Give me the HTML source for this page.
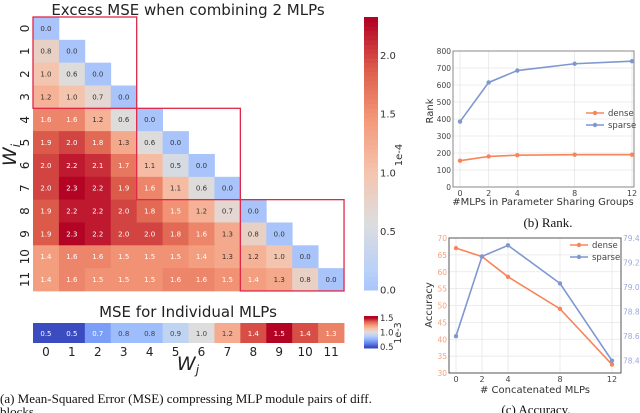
<!DOCTYPE html>
<html><head><meta charset="utf-8"><style>
body{margin:0;background:#fff;width:640px;height:413px;overflow:hidden}
svg{display:block}
text{font-family:"DejaVu Sans","Liberation Sans",sans-serif}
.cap{font-family:"Liberation Serif",serif;font-size:13px;fill:#111}
</style></head><body>
<svg id="s" width="640" height="413" xmlns="http://www.w3.org/2000/svg">
<text x="188" y="15" font-size="15" text-anchor="middle" fill="#222">Excess MSE when combining 2 MLPs</text>
<text x="188" y="317" font-size="15" text-anchor="middle" fill="#222">MSE for Individual MLPs</text>
<g id="hm"></g>
<g id="strip"></g>
<text x="16" y="155" font-size="19" font-style="italic" text-anchor="middle" transform="rotate(-90 16 155)" fill="#222">W<tspan font-size="12" dy="4">i</tspan></text>
<text x="188" y="370" font-size="19" font-style="italic" text-anchor="middle" fill="#222">W<tspan font-size="12" dy="4">j</tspan></text>
<g id="cb1"></g>
<g id="cb2"></g>
<text x="402" y="155" font-size="10" text-anchor="middle" transform="rotate(-90 402 155)" fill="#333">1e-4</text>
<text x="401" y="333" font-size="9.5" text-anchor="middle" transform="rotate(-90 401 333)" fill="#333">1e-3</text>
<text x="0" y="403" class="cap">(a) Mean-Squared Error (MSE) compressing MLP module pairs of diff.</text>
<text x="0" y="416" class="cap">blocks.</text>
<g id="rank"></g>
<g id="acc"></g>
<text x="548" y="227" class="cap" text-anchor="middle">(b) Rank.</text>
<text x="536" y="414" class="cap" text-anchor="middle">(c) Accuracy.</text>
</svg>
<script>
const excessRows=[[0.0],[0.8,0.0],[1.0,0.6,0.0],[1.2,1.0,0.7,0.0],[1.6,1.6,1.2,0.6,0.0],[1.9,2.0,1.8,1.3,0.6,0.0],[2.0,2.2,2.1,1.7,1.1,0.5,0.0],[2.0,2.3,2.2,1.9,1.6,1.1,0.6,0.0],[1.9,2.2,2.2,2.0,1.8,1.5,1.2,0.7,0.0],[1.9,2.3,2.2,2.0,2.0,1.8,1.6,1.3,0.8,0.0],[1.4,1.6,1.6,1.5,1.5,1.5,1.4,1.3,1.2,1.0,0.0],[1.4,1.6,1.5,1.5,1.5,1.6,1.6,1.5,1.4,1.3,0.8,0.0]];
const individualMse=[0.5,0.5,0.7,0.8,0.8,0.9,1.0,1.2,1.4,1.5,1.4,1.3];
const cb1Ticks=[0.0,0.5,1.0,1.5,2.0];
const cb2Ticks=[0.5,1.0,1.5];
const rankX=[0,2,4,8,12];
const rankDense=[155,180,187,190,190];
const rankSparse=[385,615,685,725,740];
const rankYTicks=[0,100,200,300,400,500,600,700,800];
const accX=[0,2,4,8,12];
const accDense=[67,64.5,58.5,49,32.5];
const accSparse=[78.6,79.25,79.34,79.03,78.4];
const accLTicks=[30,35,40,45,50,55,60,65,70];
const accRTicks=[78.4,78.6,78.8,79.0,79.2,79.4];

const NS="http://www.w3.org/2000/svg";
function mk(p,tag,a,txt){const e=document.createElementNS(NS,tag);for(const k in a)e.setAttribute(k,a[k]);if(txt!==undefined)e.textContent=txt;p.appendChild(e);return e;}
const CW=[[59,76,192],[98,130,234],[141,176,254],[184,208,249],[221,221,221],[245,196,173],[244,154,123],[222,96,77],[180,4,38]];
function cw(t){t=Math.max(0,Math.min(1,t));const f=t*8,i=Math.min(7,Math.floor(f)),r=f-i;const a=CW[i],b=CW[i+1];return`rgb(${a.map((v,k)=>Math.round(v+(b[k]-v)*r)).join(',')})`;}
const c1=v=>cw(0.33+0.67*v/2.3);
const c2=v=>cw((v-0.5)/1.0);
const X0=33,CWD=25.92,Y0=17,RH=22.83;
const hm=document.getElementById('hm');
excessRows.forEach((row,i)=>row.forEach((v,j)=>{
 const r=mk(hm,'rect',{x:X0+j*CWD,y:Y0+i*RH,width:CWD+0.4,height:RH+0.4,fill:c1(v)});
 
 const t=mk(hm,'text',{x:X0+(j+.5)*CWD,y:Y0+(i+.5)*RH+2.5,'font-size':7,'text-anchor':'middle',fill:v>=1.4?'#fff':'#333'},v.toFixed(1));
 
}));
for(let i=0;i<12;i++){const cx=25,cy=Y0+(i+.5)*RH;
 const t=mk(hm,'text',{x:cx,y:cy+4,'font-size':12,'text-anchor':'middle',fill:'#222',transform:`rotate(-90 ${cx} ${cy})`},String(i));
 }
[0,4,8].forEach(k=>{const b=mk(hm,'rect',{x:X0+k*CWD,y:Y0+k*RH,width:4*CWD,height:4*RH,fill:'none',stroke:'#e0284a','stroke-width':1.3});
 });
const st=document.getElementById('strip');
individualMse.forEach((v,j)=>{
 const r=mk(st,'rect',{x:X0+j*CWD,y:323,width:CWD+0.4,height:20,fill:c2(v)});
 
 const t=mk(st,'text',{x:X0+(j+.5)*CWD,y:336,'font-size':7,'text-anchor':'middle',fill:(v>=0.8&&v<=1.2)?'#444':'#fff'},v.toFixed(1));
 
 const l=mk(st,'text',{x:X0+(j+.5)*CWD,y:356,'font-size':12,'text-anchor':'middle',fill:'#222'},String(j));
 
});
function colorbar(g,x,top,bot,vmin,vmax,fn,ticks,fs){
 const n=60;for(let k=0;k<n;k++){const v=vmin+(vmax-vmin)*(k+.5)/n;const y=bot-(k+1)*(bot-top)/n;
  const r=mk(g,'rect',{x:x,y:y,width:14,height:(bot-top)/n+0.5,fill:fn(v)});
  }
 ticks.forEach(v=>{const y=bot-(v-vmin)/(vmax-vmin)*(bot-top);
  const t=mk(g,'text',{x:x+16,y:y+3.5,'font-size':fs,fill:'#333'},v.toFixed(1));
  });
}
colorbar(document.getElementById('cb1'),364,17,290,0,2.33,c1,cb1Ticks,10);
colorbar(document.getElementById('cb2'),364,316,348,0.45,1.55,c2,cb2Ticks,8.5);

const OR='#f8855a',BL='#7f97d0';
function line(g,xs,ys,sx,sy,col,name){
 const pts=xs.map((x,i)=>`${sx(x)},${sy(ys[i])}`).join(' ');
 const p=mk(g,'polyline',{points:pts,fill:'none',stroke:col,'stroke-width':1.6});
 
 xs.forEach((x,i)=>{const c=mk(g,'circle',{cx:sx(x),cy:sy(ys[i]),r:2.2,fill:col});
  });
}
function legend(g,x,y){
 [[OR,'dense'],[BL,'sparse']].forEach(([c,n],k)=>{const yy=y+k*12;
  mk(g,'line',{x1:x,y1:yy,x2:x+18,y2:yy,stroke:c,'stroke-width':1.6});
  mk(g,'circle',{cx:x+9,cy:yy,r:2.2,fill:c});
  const t=mk(g,'text',{x:x+22,y:yy+3,'font-size':8.5,fill:'#444'},n);
  });
}
(function(){const g=document.getElementById('rank');const L=453,R=634,T=51,B=187;
 const sx=x=>L+(x+0.49)/(12.14+0.49)*(R-L), sy=y=>B-y/800*(B-T);
 rankYTicks.forEach(v=>{mk(g,'line',{x1:L,x2:R,y1:sy(v),y2:sy(v),stroke:'#e6e6e6','stroke-width':0.8});
  const t=mk(g,'text',{x:L-2,y:sy(v)+3,'font-size':7.5,'text-anchor':'end',fill:'#444'},String(v));
  });
 rankX.forEach(v=>{mk(g,'line',{x1:sx(v),x2:sx(v),y1:T,y2:B,stroke:'#e6e6e6','stroke-width':0.8});
  const t=mk(g,'text',{x:sx(v),y:B+9,'font-size':8,'text-anchor':'middle',fill:'#444'},String(v));
  });
 mk(g,'rect',{x:L,y:T,width:R-L,height:B-T,fill:'none',stroke:'#888','stroke-width':1});
 line(g,rankX,rankDense,sx,sy,OR,'rank-dense');line(g,rankX,rankSparse,sx,sy,BL,'rank-sparse');
 legend(g,586,113);
 mk(g,'text',{x:433,y:111,'font-size':10,'text-anchor':'middle',fill:'#333',transform:'rotate(-90 433 111)'},'Rank');
 mk(g,'text',{x:543,y:205,'font-size':10,'text-anchor':'middle',fill:'#333'},'#MLPs in Parameter Sharing Groups');
})();
(function(){const g=document.getElementById('acc');const L=449,R=621,T=238,B=373;
 const sx=x=>456+x*13, sy=y=>B-(y-30)/40*(B-T), sr=y=>B-(y-78.3)/1.1*(B-T);
 accLTicks.forEach(v=>{mk(g,'line',{x1:L,x2:R,y1:sy(v),y2:sy(v),stroke:'#e6e6e6','stroke-width':0.8});
  const t=mk(g,'text',{x:L-2,y:sy(v)+3,'font-size':7.5,'text-anchor':'end',fill:'#f8a07a'},String(v));
  });
 accRTicks.forEach(v=>{const t=mk(g,'text',{x:R+2,y:sr(v)+3,'font-size':7.5,fill:'#9aaadc'},v.toFixed(1));
  });
 accX.forEach(v=>{mk(g,'line',{x1:sx(v),x2:sx(v),y1:T,y2:B,stroke:'#e6e6e6','stroke-width':0.8});
  const t=mk(g,'text',{x:sx(v),y:B+9,'font-size':8,'text-anchor':'middle',fill:'#444'},String(v));
  });
 mk(g,'rect',{x:L,y:T,width:R-L,height:B-T,fill:'none',stroke:'#555','stroke-width':1});
 line(g,accX,accDense,sx,sy,OR,'acc-dense');line(g,accX,accSparse,sx,sr,BL,'acc-sparse');
 legend(g,570,245);
 mk(g,'text',{x:432,y:305,'font-size':10,'text-anchor':'middle',fill:'#333',transform:'rotate(-90 432 305)'},'Accuracy');
 mk(g,'text',{x:535,y:393,'font-size':10,'text-anchor':'middle',fill:'#333'},'# Concatenated MLPs');
})();
</script>
</body></html>
